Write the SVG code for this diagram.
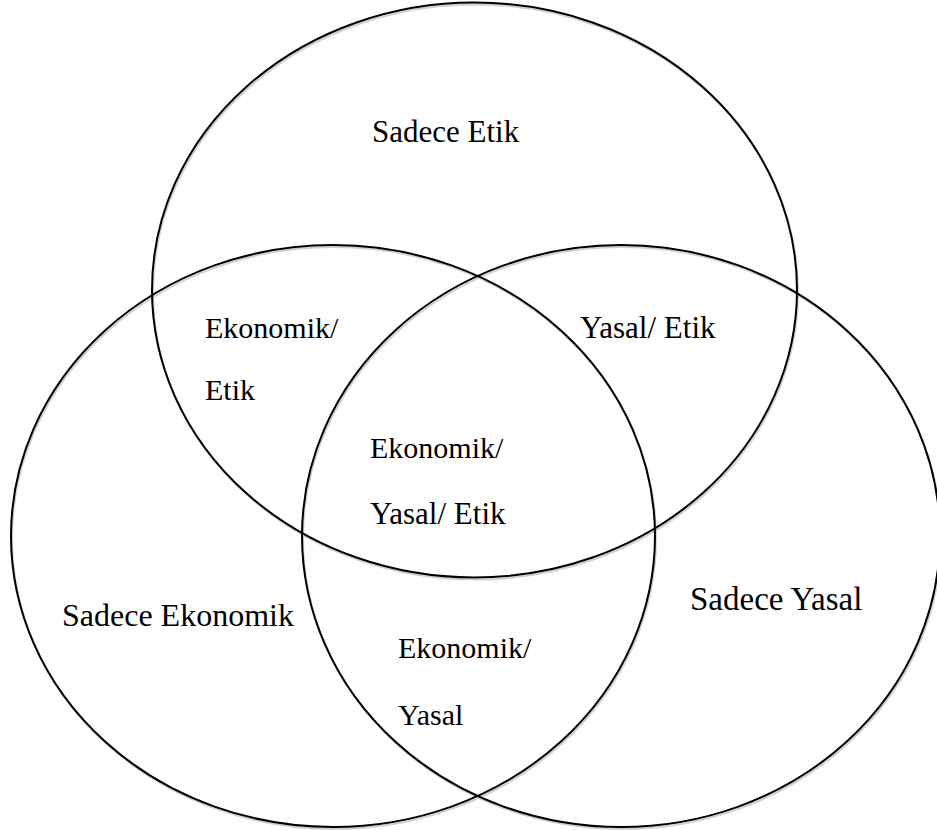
<svg xmlns="http://www.w3.org/2000/svg" width="937" height="830" viewBox="0 0 937 830">
<style>
.c{fill:none;stroke:#000;stroke-width:2}
.s{fill:none;stroke:#d0d0d0;stroke-width:2}
text{font-family:"Liberation Serif","Times New Roman",serif;font-size:30px;fill:#000}
.b{font-size:32px}
</style>
<rect width="937" height="830" fill="#fff"/>
<g id="shadows">
<ellipse class="s" cx="475.5" cy="292" rx="322.5" ry="287.5"/>
<ellipse class="s" cx="334" cy="538" rx="322" ry="291"/>
<ellipse class="s" cx="622" cy="538" rx="319" ry="291"/>
</g>
<g id="etik"><ellipse class="c" cx="474.5" cy="290" rx="322.5" ry="287.5"/></g>
<g id="ekonomik"><ellipse class="c" cx="333" cy="536" rx="322" ry="291"/></g>
<g id="yasal"><ellipse class="c" cx="621" cy="536" rx="319" ry="291"/></g>
<g id="labels">
<text x="372" y="142" style="font-size:31px">Sadece Etik</text>
<text x="205" y="338">Ekonomik/</text>
<text x="205" y="400">Etik</text>
<text x="580" y="338" style="font-size:31px">Yasal/ Etik</text>
<text x="370" y="458">Ekonomik/</text>
<text x="370" y="524" style="font-size:31px">Yasal/ Etik</text>
<text class="b" x="62" y="626">Sadece Ekonomik</text>
<text x="690" y="610" style="font-size:33px">Sadece Yasal</text>
<text x="398" y="658">Ekonomik/</text>
<text x="398" y="725">Yasal</text>
</g>
</svg>
